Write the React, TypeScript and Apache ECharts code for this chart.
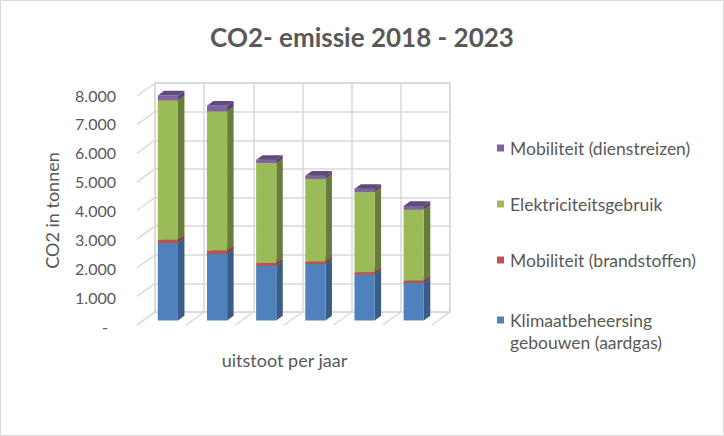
import React, { useEffect, useRef } from "react";
import * as echarts from "echarts";

const categories = ["2018", "2019", "2020", "2021", "2022", "2023"];
const yTicks = [0, 1000, 2000, 3000, 4000, 5000, 6000, 7000, 8000];

const klimaatbeheersing = [2705, 2320, 1910, 1970, 1600, 1310];
const brandstoffen = [115, 125, 95, 90, 85, 90];
const elektriciteit = [4865, 4855, 3490, 2880, 2795, 2470];
const dienstreizen = [175, 200, 117, 115, 117, 130];

const seriesNames = [
  "Klimaatbeheersing gebouwen (aardgas)",
  "Mobiliteit (brandstoffen)",
  "Elektriciteitsgebruik",
  "Mobiliteit (dienstreizen)",
];
const seriesValues = [klimaatbeheersing, brandstoffen, elektriciteit, dienstreizen];

// style: front, side, top colours per series
const faceColors = [
  { front: "#4f81bd", side: "#385d8a", top: "#41699b" },
  { front: "#c0504d", side: "#8c3a38", top: "#a24442" },
  { front: "#9bbb59", side: "#677d3b", top: "#7f9a49" },
  { front: "#8064a2", side: "#594676", top: "#5f4b7d" },
];

const FONT = "Lato";
const TEXT = "#595959";
const GRIDLINE = "#d9d9d9";
const GRID_W = 1.5;
const DEPTH = [-18, 13]; // wall depth (back -> front)
const BAR_FRONT = 0.65; // fraction of depth where bar front face lies
const BAR_DEPTH = 0.36; // bar depth as fraction of wall depth
const BAR_WIDTH = 0.41; // fraction of band

function buildOption() {
  const barSeries = seriesNames.map((name, s) => {
    const data = categories.map((_, i) => {
      let base = 0;
      for (let k = 0; k < s; k++) base += seriesValues[k][i];
      return [i, base, base + seriesValues[s][i]];
    });
    const c = faceColors[s];
    return {
      type: "custom",
      name,
      xAxisIndex: 0,
      yAxisIndex: 0,
      itemStyle: { color: c.front },
      encode: { x: 0, y: [1, 2] },
      data,
      z: 10,
      renderItem: (params: any, api: any) => {
        const i = api.value(0);
        const p0 = api.coord([i, api.value(1)]);
        const p1 = api.coord([i, api.value(2)]);
        const band = api.size([1, 0])[0];
        const w = band * BAR_WIDTH;
        const fx = p0[0] + DEPTH[0] * BAR_FRONT;
        const x0 = fx - w / 2;
        const x1 = fx + w / 2;
        const yb = p0[1] + DEPTH[1] * BAR_FRONT;
        const yt = p1[1] + DEPTH[1] * BAR_FRONT;
        const dx = -DEPTH[0] * BAR_DEPTH;
        const dy = -DEPTH[1] * BAR_DEPTH;
        return {
          type: "group",
          children: [
            {
              type: "polygon",
              shape: { points: [[x1, yt], [x1 + dx, yt + dy], [x1 + dx, yb + dy], [x1, yb]] },
              style: { fill: c.side },
            },
            {
              type: "polygon",
              shape: { points: [[x0, yt], [x0 + dx, yt + dy], [x1 + dx, yt + dy], [x1, yt]] },
              style: { fill: c.top },
            },
            {
              type: "rect",
              shape: { x: x0, y: yt, width: w, height: yb - yt },
              style: { fill: c.front },
            },
          ],
        };
      },
    };
  });

  const sideWall = {
    type: "custom",
    xAxisIndex: 0,
    yAxisIndex: 0,
    silent: true,
    encode: { x: 0, y: 1 },
    data: yTicks.map((v) => [0, v]),
    z: 2,
    renderItem: (params: any, api: any) => {
      const p = api.coord([0, api.value(1)]);
      const band = api.size([1, 0])[0];
      const x = p[0] - band / 2;
      return {
        type: "line",
        shape: { x1: x, y1: p[1], x2: x + DEPTH[0], y2: p[1] + DEPTH[1] },
        style: { stroke: GRIDLINE, lineWidth: GRID_W },
      };
    },
  };

  const floorData = categories.map((_, k) => [0, 0, k]);
  floorData.push([0, 0, categories.length]);
  const floor = {
    type: "custom",
    xAxisIndex: 0,
    yAxisIndex: 0,
    silent: true,
    encode: { x: 0, y: 1 },
    data: floorData,
    z: 2,
    renderItem: (params: any, api: any) => {
      const p = api.coord([0, 0]);
      const band = api.size([1, 0])[0];
      const x = p[0] - band / 2 + api.value(2) * band;
      return {
        type: "line",
        shape: { x1: x, y1: p[1], x2: x + DEPTH[0], y2: p[1] + DEPTH[1] },
        style: { stroke: GRIDLINE, lineWidth: GRID_W },
      };
    },
  };

  const legendText = { fontFamily: FONT, fontSize: 17.5, color: TEXT, lineHeight: 22, padding: [0, 0, 0, 1] };

  return {
    animation: false,
    backgroundColor: "#ffffff",
    textStyle: { fontFamily: FONT },
    title: {
      text: "CO2- emissie 2018 - 2023",
      left: "center",
      top: 19,
      textStyle: { fontFamily: FONT, fontSize: 26, fontWeight: "bold", color: TEXT },
    },
    graphic: [
      {
        type: "rect",
        shape: { x: 0.5, y: 0.5, width: 723, height: 435 },
        style: { fill: "none", stroke: GRIDLINE, lineWidth: 1 },
        silent: true,
      },
    ],
    legend: [
      {
        orient: "vertical",
        left: 497,
        top: 137,
        padding: 0,
        itemWidth: 7,
        itemHeight: 7,
        itemGap: 34,
        selectedMode: false,
        icon: "rect",
        data: [seriesNames[3], seriesNames[2], seriesNames[1]],
        textStyle: legendText,
      },
      {
        orient: "vertical",
        left: 497,
        top: 309,
        padding: 0,
        itemWidth: 7,
        itemHeight: 29,
        selectedMode: false,
        icon: "path://M0,0H7V7H0Z M0,29H7V29.01H0Z",
        data: [seriesNames[0]],
        formatter: (name: string) => name.replace(" gebouwen", "\ngebouwen"),
        textStyle: legendText,
      },
    ],
    grid: [
      { left: 155, right: 274, top: 83, bottom: 124, show: true, borderColor: GRIDLINE, borderWidth: GRID_W },
      { left: 137, right: 292, top: 95, bottom: 110 },
    ],
    xAxis: [
      {
        type: "category",
        gridIndex: 0,
        data: categories,
        axisLine: { show: false },
        axisTick: { show: false },
        axisLabel: { show: false },
        splitLine: { show: true, lineStyle: { color: GRIDLINE, width: GRID_W } },
      },
      {
        type: "category",
        gridIndex: 1,
        data: categories,
        axisLine: { show: false },
        axisTick: { show: false },
        axisLabel: { show: false },
        splitLine: { show: false },
        name: "uitstoot per jaar",
        nameLocation: "middle",
        nameGap: 25,
        nameTextStyle: { fontFamily: FONT, fontSize: 18, color: TEXT },
      },
    ],
    yAxis: [
      {
        type: "value",
        gridIndex: 0,
        min: 0,
        max: 8000,
        interval: 1000,
        axisLine: { show: false },
        axisTick: { show: false },
        axisLabel: { show: false },
        splitLine: { show: true, lineStyle: { color: GRIDLINE, width: GRID_W } },
      },
      {
        type: "value",
        gridIndex: 1,
        min: 0,
        max: 8000,
        interval: 1000,
        axisLine: { show: false },
        axisTick: { show: false },
        splitLine: { show: false },
        axisLabel: {
          margin: 21,
          fontFamily: FONT,
          fontSize: 16,
          color: TEXT,
          formatter: (v: number) =>
            v === 0 ? "{d|-}" : String(v).replace(/\B(?=(\d{3})+(?!\d))/g, "."),
          rich: { d: { fontFamily: FONT, fontSize: 16, color: TEXT, padding: [0, 8, 0, 0] } },
        },
        name: "CO2 in tonnen",
        nameLocation: "middle",
        nameRotate: 90,
        nameGap: 76,
        nameTextStyle: { fontFamily: FONT, fontSize: 18, color: TEXT },
      },
    ],
    series: [sideWall, floor, ...barSeries],
  };
}

export default function App() {
  const ref = useRef<HTMLDivElement>(null);
  useEffect(() => {
    document.body.style.margin = "0";
    if (!ref.current) return;
    const chart = echarts.init(ref.current, undefined, { renderer: "svg" });
    chart.setOption(buildOption() as any);
    return () => chart.dispose();
  }, []);
  return (
    <div
      ref={ref}
      style={{ position: "absolute", left: 0, top: 0, width: 724, height: 436 }}
    />
  );
}
